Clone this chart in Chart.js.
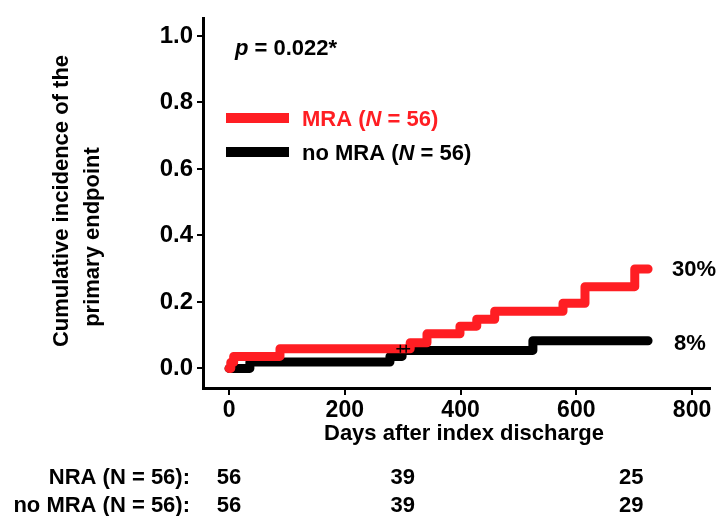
<!DOCTYPE html>
<html><head><meta charset="utf-8">
<script src="https://cdn.jsdelivr.net/npm/chart.js@4/dist/chart.umd.min.js"></script>
<style>html,body{margin:0;padding:0;background:#fff}</style>
</head><body>
<canvas id="c" width="722" height="516"></canvas>
<script>
// ---- data ----
const daysMRA = [0, 3, 8, 88, 313, 342, 399, 428, 459, 577, 615, 701, 724];
const incMRA  = [0, 0.018, 0.036, 0.059, 0.077, 0.104, 0.127, 0.148, 0.172, 0.196, 0.246, 0.299, 0.299];
const daysNoMRA = [0, 36, 278, 299, 525, 724];
const incNoMRA  = [0, 0.019, 0.036, 0.054, 0.083, 0.083];
const censorDays = [296, 306];
const censorInc  = [0.059, 0.059];
const xTicks = [0, 200, 400, 600, 800];
const yTicks = [0, 0.2, 0.4, 0.6, 0.8, 1.0];
const yTickLabels = ['0.0', '0.2', '0.4', '0.6', '0.8', '1.0'];
const riskDays = [0, 300, 695];
const riskMRA = [56, 39, 25];
const riskNoMRA = [56, 39, 29];
const riskLabels = ['NRA (N = 56):', 'no MRA (N = 56):'];
const finalLabels = ['30%', '8%'];

const RED = 'rgb(255,30,35)';
const FONT = '"Liberation Sans", Arial, Helvetica, sans-serif';

function pts(xs, ys) { return xs.map((x, i) => ({x: x, y: ys[i]})); }

function runs(ctx, parts, x, y, color) {
  let cx = x;
  ctx.fillStyle = color;
  ctx.textAlign = 'left';
  ctx.textBaseline = 'alphabetic';
  for (const p of parts) {
    ctx.font = (p.i ? 'italic ' : '') + 'bold 22px ' + FONT;
    ctx.fillText(p.t, cx, y);
    cx += ctx.measureText(p.t).width;
  }
}

const textPlugin = {
  id: 'texts',
  afterDraw(chart) {
    const ctx = chart.ctx;
    const xs = chart.scales.x;
    ctx.save();
    // y-axis title (two lines, rotated)
    ctx.font = 'bold 22px ' + FONT;
    ctx.fillStyle = '#000';
    ctx.textAlign = 'center';
    ctx.textBaseline = 'middle';
    ctx.save(); ctx.translate(62, 201); ctx.rotate(-Math.PI / 2);
    ctx.fillText('Cumulative incidence of the', 0, 0); ctx.restore();
    ctx.save(); ctx.translate(93, 237); ctx.rotate(-Math.PI / 2);
    ctx.fillText('primary endpoint', 0, 0); ctx.restore();
    // x-axis title
    ctx.textBaseline = 'alphabetic';
    ctx.fillText('Days after index discharge', 464, 440);
    // p value
    runs(ctx, [{t: 'p', i: true}, {t: ' = 0.022*'}], 235, 55, '#000');
    // legend
    ctx.lineCap = 'butt';
    ctx.lineWidth = 10;
    ctx.strokeStyle = RED;
    ctx.beginPath(); ctx.moveTo(226, 118); ctx.lineTo(289, 118); ctx.stroke();
    ctx.strokeStyle = '#000';
    ctx.beginPath(); ctx.moveTo(226, 152); ctx.lineTo(289, 152); ctx.stroke();
    runs(ctx, [{t: 'MRA ('}, {t: 'N', i: true}, {t: ' = 56)'}], 302, 126, RED);
    runs(ctx, [{t: 'no MRA ('}, {t: 'N', i: true}, {t: ' = 56)'}], 302, 160, '#000');
    // final percentages
    ctx.font = 'bold 22px ' + FONT;
    ctx.fillStyle = '#000';
    ctx.textAlign = 'left';
    ctx.fillText(finalLabels[0], 672, 276);
    ctx.fillText(finalLabels[1], 674, 350);
    // number at risk table
    ctx.textAlign = 'right';
    ctx.fillText(riskLabels[0], 190, 484);
    ctx.fillText(riskLabels[1], 190, 512);
    ctx.textAlign = 'center';
    riskDays.forEach((d, i) => {
      const px = xs.getPixelForValue(d);
      ctx.fillText(String(riskMRA[i]), px, 484);
      ctx.fillText(String(riskNoMRA[i]), px, 512);
    });
    ctx.restore();
  }
};

new Chart(document.getElementById('c'), {
  type: 'line',
  data: {
    datasets: [
      { label: 'censor', data: pts(censorDays, censorInc), showLine: false,
        pointStyle: 'cross', pointRadius: 4, borderColor: '#000', borderWidth: 1.5 },
      { label: 'MRA', data: pts(daysMRA, incMRA), stepped: 'before',
        borderColor: RED, borderWidth: 9, pointRadius: 0, fill: false,
        borderCapStyle: 'round', borderJoinStyle: 'round' },
      { label: 'no MRA', data: pts(daysNoMRA, incNoMRA), stepped: 'before',
        borderColor: '#000', borderWidth: 9, pointRadius: 0, fill: false,
        borderCapStyle: 'round', borderJoinStyle: 'round' }
    ]
  },
  options: {
    responsive: false,
    animation: false,
    devicePixelRatio: 1,
    layout: { padding: { left: 0, top: 12, right: 12, bottom: 0 } },
    plugins: { legend: { display: false }, tooltip: { enabled: false } },
    scales: {
      x: {
        type: 'linear', min: -45, max: 831,
        afterFit: s => { s.height = 128; },
        afterBuildTicks: s => { s.ticks = xTicks.map(v => ({value: v})); },
        grid: { display: true, drawOnChartArea: false, drawTicks: true, tickLength: 7, color: '#000', lineWidth: 2 },
        border: { display: true, color: '#000', width: 3 },
        ticks: { color: '#000', font: { family: FONT, size: 23, weight: 'bold' }, padding: 2, maxRotation: 0,
                 callback: v => String(v) }
      },
      y: {
        type: 'linear', min: -0.059, max: 1.053,
        afterFit: s => { s.width = 203; },
        afterBuildTicks: s => { s.ticks = yTicks.map(v => ({value: v})); },
        grid: { display: true, drawOnChartArea: false, drawTicks: true, tickLength: 6, color: '#000', lineWidth: 2 },
        border: { display: true, color: '#000', width: 3 },
        ticks: { color: '#000', font: { family: FONT, size: 24, weight: 'bold' }, padding: 4,
                 callback: (v) => { const i = yTicks.findIndex(t => Math.abs(t - v) < 1e-6); return i >= 0 ? yTickLabels[i] : ''; } }
      }
    }
  },
  plugins: [textPlugin]
});
</script>
</body></html>
